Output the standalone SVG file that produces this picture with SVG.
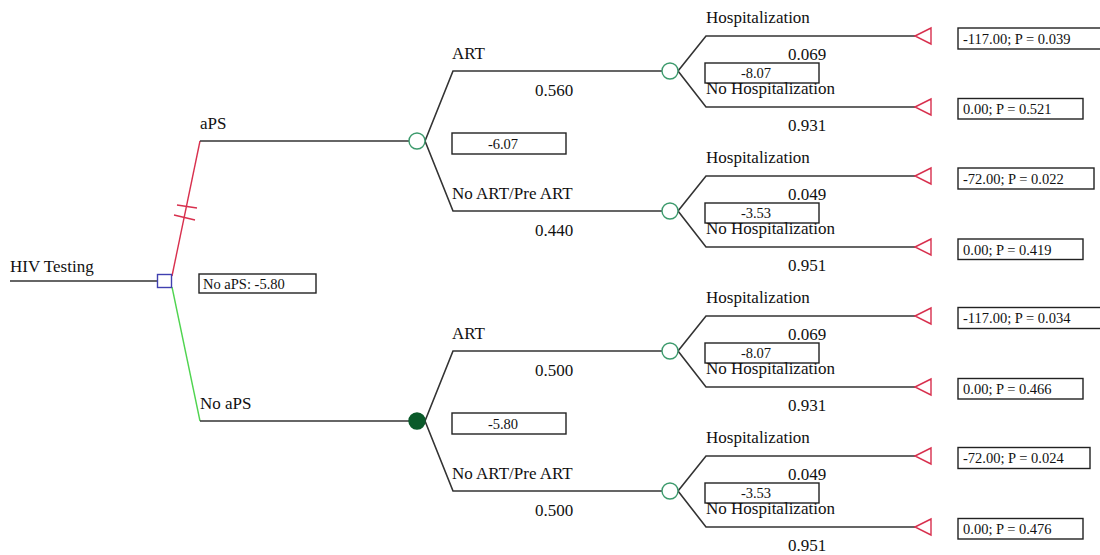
<svg xmlns="http://www.w3.org/2000/svg" width="1100" height="555" viewBox="0 0 1100 555">
<style>
.ln{fill:none;stroke:#333;stroke-width:1.6}
.red{fill:none;stroke:#d8304e;stroke-width:1.4}
.grn{fill:none;stroke:#4fd44f;stroke-width:1.4}
.ch{fill:#fff;stroke:#3c9a6c;stroke-width:1.4}
.chf{fill:#0a5a2a;stroke:#0a5a2a;stroke-width:1.4}
.term{fill:#fff;stroke:#d8304e;stroke-width:1.4}
.box{fill:#fff;stroke:#222;stroke-width:1.4}
.lbl{font-family:"Liberation Serif","Times New Roman",serif;font-size:17px;fill:#111}
.val{font-family:"Liberation Serif","Times New Roman",serif;font-size:14.5px;fill:#111}
.mid{text-anchor:middle}
</style>
<rect width="1100" height="555" fill="#fff"/>
<g id="connectors">
<path class="ln" d="M10 281H157"/>
<path class="red" d="M172 276L200 141"/>
<path class="red" d="M177 205L197 208M174 215L195 220"/>
<path class="ln" d="M200 141H409"/>
<path class="grn" d="M172 287L200 421"/>
<path class="ln" d="M200 421H409"/>
<path class="ln" d="M425 141L453 71H662M425 141L453 211H662"/>
<path class="ln" d="M425 421L453 351H662M425 421L453 491H662"/>
<path class="ln" d="M678 71L706 36H915M678 71L706 107H915"/>
<path class="ln" d="M678 211L706 176H915M678 211L706 247H915"/>
<path class="ln" d="M678 351L706 316H915M678 351L706 387H915"/>
<path class="ln" d="M678 491L706 456H915M678 491L706 527H915"/>
</g>
<g id="root">
<text class="lbl" x="10" y="272">HIV Testing</text>
<rect x="157.5" y="274.5" width="14" height="13" fill="#fff" stroke="#4040b0" stroke-width="1.4"/>
<rect class="box" x="199" y="274" width="117" height="19"/>
<text class="val" x="203" y="289">No aPS: -5.80</text>
</g>
<g id="aps">
<text class="lbl" x="200" y="129">aPS</text>
<circle class="ch" cx="417" cy="141" r="8"/>
<rect class="box" x="452" y="133" width="114" height="21"/>
<text class="val mid" x="503" y="149">-6.07</text>
</g>
<g id="noaps">
<text class="lbl" x="200" y="409">No aPS</text>
<circle class="chf" cx="417" cy="421" r="8"/>
<rect class="box" x="452" y="413" width="114" height="21"/>
<text class="val mid" x="503" y="429">-5.80</text>
</g>
<g id="aps-art">
<text class="lbl" x="452" y="59">ART</text>
<text class="lbl mid" x="554" y="96">0.560</text>
<circle class="ch" cx="670" cy="71" r="8"/>
<rect class="box" x="705" y="63" width="114" height="20"/>
<text class="val mid" x="756" y="78">-8.07</text>
</g>
<g id="aps-noart">
<text class="lbl" x="452" y="199">No ART/Pre ART</text>
<text class="lbl mid" x="554" y="236">0.440</text>
<circle class="ch" cx="670" cy="211" r="8"/>
<rect class="box" x="705" y="203" width="114" height="20"/>
<text class="val mid" x="756" y="218">-3.53</text>
</g>
<g id="noaps-art">
<text class="lbl" x="452" y="339">ART</text>
<text class="lbl mid" x="554" y="376">0.500</text>
<circle class="ch" cx="670" cy="351" r="8"/>
<rect class="box" x="705" y="343" width="114" height="20"/>
<text class="val mid" x="756" y="358">-8.07</text>
</g>
<g id="noaps-noart">
<text class="lbl" x="452" y="479">No ART/Pre ART</text>
<text class="lbl mid" x="554" y="516">0.500</text>
<circle class="ch" cx="670" cy="491" r="8"/>
<rect class="box" x="705" y="483" width="114" height="20"/>
<text class="val mid" x="756" y="498">-3.53</text>
</g>
<g id="t1">
<text class="lbl" x="706" y="23">Hospitalization</text>
<text class="lbl mid" x="807" y="60">0.069</text>
<polygon class="term" points="915,36 931,28 931,44"/>
<rect class="box" x="958" y="28" width="150" height="21"/>
<text class="val" x="963" y="44">-117.00; P = 0.039</text>
</g>
<g id="t2">
<text class="lbl" x="706" y="94">No Hospitalization</text>
<text class="lbl mid" x="807" y="131">0.931</text>
<polygon class="term" points="915,107 931,99 931,115"/>
<rect class="box" x="958" y="98.5" width="125" height="20.5"/>
<text class="val" x="963" y="114">0.00; P = 0.521</text>
</g>
<g id="t3">
<text class="lbl" x="706" y="163">Hospitalization</text>
<text class="lbl mid" x="807" y="200">0.049</text>
<polygon class="term" points="915,176 931,168 931,184"/>
<rect class="box" x="958" y="168" width="136" height="21"/>
<text class="val" x="963" y="184">-72.00; P = 0.022</text>
</g>
<g id="t4">
<text class="lbl" x="706" y="234">No Hospitalization</text>
<text class="lbl mid" x="807" y="271">0.951</text>
<polygon class="term" points="915,247 931,239 931,255"/>
<rect class="box" x="958" y="239" width="125" height="20.5"/>
<text class="val" x="963" y="255">0.00; P = 0.419</text>
</g>
<g id="t5">
<text class="lbl" x="706" y="303">Hospitalization</text>
<text class="lbl mid" x="807" y="340">0.069</text>
<polygon class="term" points="915,316 931,308 931,324"/>
<rect class="box" x="958" y="307.5" width="150" height="21"/>
<text class="val" x="963" y="323">-117.00; P = 0.034</text>
</g>
<g id="t6">
<text class="lbl" x="706" y="374">No Hospitalization</text>
<text class="lbl mid" x="807" y="411">0.931</text>
<polygon class="term" points="915,387 931,379 931,395"/>
<rect class="box" x="958" y="378.5" width="125" height="20.5"/>
<text class="val" x="963" y="394">0.00; P = 0.466</text>
</g>
<g id="t7">
<text class="lbl" x="706" y="443">Hospitalization</text>
<text class="lbl mid" x="807" y="480">0.049</text>
<polygon class="term" points="915,456 931,448 931,464"/>
<rect class="box" x="958" y="447.5" width="132" height="21"/>
<text class="val" x="963" y="463">-72.00; P = 0.024</text>
</g>
<g id="t8">
<text class="lbl" x="706" y="514">No Hospitalization</text>
<text class="lbl mid" x="807" y="551">0.951</text>
<polygon class="term" points="915,527 931,519 931,535"/>
<rect class="box" x="958" y="518.5" width="125" height="20.5"/>
<text class="val" x="963" y="534">0.00; P = 0.476</text>
</g>
</svg>
